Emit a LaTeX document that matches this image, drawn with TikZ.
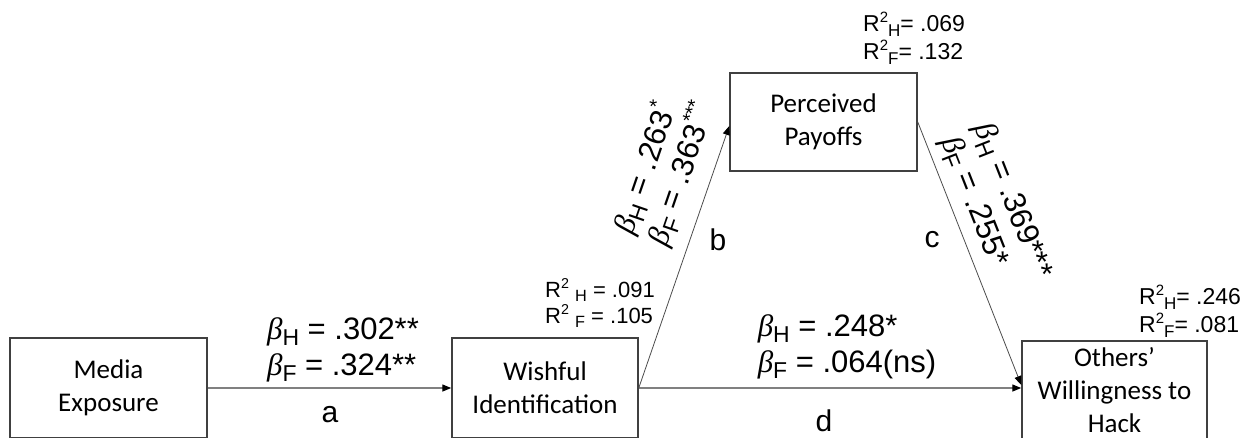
\documentclass[tikz,border=0pt]{standalone}
\usepackage{fontspec}
\setmainfont{Liberation Sans}
\newfontfamily\boxfont{Carlito}
\newfontfamily\grk{Liberation Serif}
\usetikzlibrary{arrows.meta}
\newcommand\mysub[1]{\raisebox{-0.2em}{\scalebox{0.74}{#1}}}
\newcommand\mysup[1]{\raisebox{0.42em}{\scalebox{0.65}{#1}}}
\newcommand\bH{{\grk\itshape β}\mysub{H}}
\newcommand\bF{{\grk\itshape β}\mysub{F}}
\tikzset{
  x=1pt, y=-1pt,
  varbox/.style={draw=black!75, line width=1.5pt, inner sep=0pt, align=center,
    font=\boxfont\fontsize{27}{33}\selectfont},
  coef/.style={inner sep=0pt, align=left, font=\fontsize{31}{36}\selectfont},
  rsq/.style={inner sep=0pt, align=left, font=\fontsize{23}{28}\selectfont},
  pathlbl/.style={inner sep=0pt, font=\fontsize{30}{34}\selectfont},
  arrthick/.style={draw=black!50, line width=1.4pt, -{Triangle[length=9pt,width=7pt,color=black]}},
  arrthin/.style={draw=black!70, line width=0.8pt, -{Triangle[length=9pt,width=7pt,color=black]}},
}
\begin{document}
\begin{tikzpicture}
\useasboundingbox (0,0) rectangle (1250,437);
\clip (0,0) rectangle (1250,437);
% boxes
\node[varbox, minimum width=197pt, minimum height=100pt] (media) at (108.5,388) {Media\\Exposure};
\node[varbox, minimum width=186pt, minimum height=100pt] (wish) at (545,388) {Wishful\\Identification};
\node[varbox, minimum width=187pt, minimum height=98pt] (perc) at (823.5,122) {Perceived\\Payoffs};
\node[varbox, minimum width=185pt, minimum height=98pt] (others) at (1114.5,390) {Others’\\Willingness to\\Hack};
% connectors
\draw[arrthick] (media.east) -- (wish.west);
\draw[arrthick] (wish.east) -- (wish.east -| others.west);
\draw[arrthin] (wish.east) -- ([yshift=-4pt]perc.west);
\draw[arrthin] (perc.east) -- ([yshift=5pt]others.west);
% coefficient labels
\node[coef] (la) at (343,349.5) {\bH{} = .302**\\\bF{} = .324**};
\node[pathlbl] (a) at (330,415) {a};
\node[coef] (ld) at (847,346.5) {\bH{} = .248*\\\bF{} = .064(ns)};
\node[pathlbl] (d) at (824,421) {d};
\node[coef, rotate=71] (lb) at (664,168) {\bH{} = .263\mysup{*}\\\bF{} = .363\mysup{***}};
\node[pathlbl] (b) at (718,240) {b};
\node[coef, rotate=-68.5] (lc) at (995,208) {\bH{} = .369***\\\bF{} = .255*};
\node[pathlbl] (c) at (932,240) {c};
% R squared
\node[rsq, anchor=west] (rp) at (863,38) {R\mysup{2}\mysub{H}= .069\\R\mysup{2}\mysub{F}= .132};
\node[rsq, anchor=west] (ro) at (1139,311) {R\mysup{2}\mysub{H}= .246\\R\mysup{2}\mysub{F}= .081};
\node[rsq, anchor=east, font=\fontsize{22}{26}\selectfont] (rw) at (655,303) {R\mysup{2} \mysub{H} = .091\\R\mysup{2} \mysub{F} = .105};
\end{tikzpicture}
\end{document}
